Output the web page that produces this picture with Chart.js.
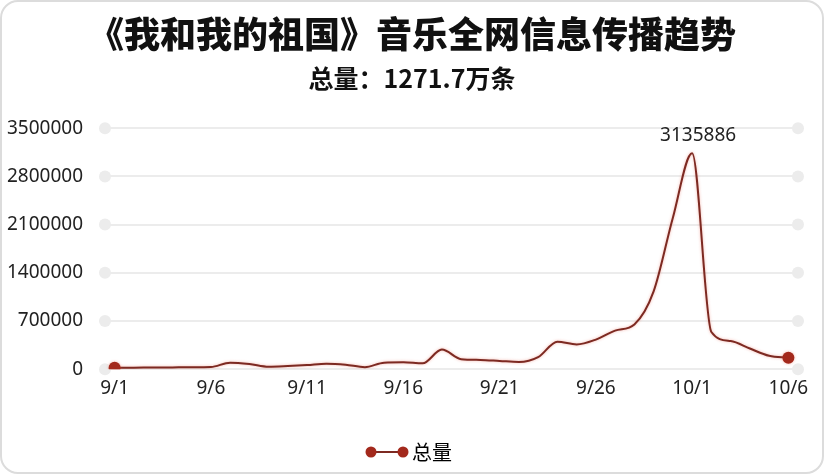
<!DOCTYPE html>
<html>
<head>
<meta charset="utf-8">
<script src="https://cdn.jsdelivr.net/npm/chart.js@4"></script>
<style>
  html, body { margin: 0; padding: 0; background: #fff; }
  #wrap { position: relative; width: 824px; height: 474px; }
  #frame { position: absolute; left: 0; top: 0; width: 824px; height: 474px; box-sizing: border-box;
           border: 2px solid #dcdcdc; border-radius: 18px; pointer-events: none; }
</style>
</head>
<body>
<div id="wrap">
  <canvas id="trendChart" width="824" height="474"></canvas>
  <div id="frame"></div>
</div>
<script>
const days = [
  '9/1','9/2','9/3','9/4','9/5','9/6','9/7','9/8','9/9','9/10',
  '9/11','9/12','9/13','9/14','9/15','9/16','9/17','9/18','9/19','9/20',
  '9/21','9/22','9/23','9/24','9/25','9/26','9/27','9/28','9/29','9/30',
  '10/1','10/2','10/3','10/4','10/5','10/6'
];
const totals = [
  20000, 22000, 24000, 26000, 28000, 32000, 95000, 75000, 35000, 45000,
  60000, 80000, 65000, 30000, 95000, 100000, 85000, 285000, 145000, 135000,
  120000, 105000, 175000, 400000, 360000, 430000, 560000, 650000, 1130000, 2200000,
  3135886, 540000, 410000, 300000, 195000, 165000
];
const yTicks = [0, 700000, 1400000, 2100000, 2800000, 3500000];

const lineColor = '#7d2a22';
const dotColor = '#a3291c';

// legend icon: line with a dot at each end
const legendIcon = document.createElement('canvas');
legendIcon.width = 44;
legendIcon.height = 14;
(function () {
  const c = legendIcon.getContext('2d');
  c.strokeStyle = lineColor;
  c.lineWidth = 2;
  c.beginPath();
  c.moveTo(6, 7);
  c.lineTo(38, 7);
  c.stroke();
  c.fillStyle = dotColor;
  [6, 38].forEach(x => { c.beginPath(); c.arc(x, 7, 5.5, 0, Math.PI * 2); c.fill(); });
})();

// round dots at both ends of every grid line
const gridDots = {
  id: 'gridDots',
  beforeDatasetsDraw(chart) {
    const { ctx, chartArea, scales } = chart;
    ctx.save();
    ctx.fillStyle = '#ececec';
    scales.y.ticks.forEach(t => {
      const y = scales.y.getPixelForValue(t.value);
      [chartArea.left, chartArea.right].forEach(x => {
        ctx.beginPath();
        ctx.arc(x, y, 6, 0, Math.PI * 2);
        ctx.fill();
      });
    });
    ctx.restore();
  }
};

// faint red glow under the line
const lineGlow = {
  id: 'lineGlow',
  beforeDatasetDraw(chart) {
    chart.ctx.save();
    chart.ctx.shadowColor = 'rgba(230, 90, 70, 0.45)';
    chart.ctx.shadowBlur = 3;
  },
  afterDatasetDraw(chart) {
    chart.ctx.restore();
  }
};

// value label over the highest point
const peakLabel = {
  id: 'peakLabel',
  afterDatasetsDraw(chart) {
    const data = chart.data.datasets[0].data;
    const i = data.indexOf(Math.max(...data));
    const pt = chart.getDatasetMeta(0).data[i];
    const ctx = chart.ctx;
    ctx.save();
    ctx.font = '19px "Noto Sans", sans-serif';
    ctx.fillStyle = '#222';
    ctx.textAlign = 'center';
    ctx.textBaseline = 'bottom';
    ctx.fillText(String(data[i]), pt.x + 6, pt.y - 8);
    ctx.restore();
  }
};

// titles and legend are centred on the whole canvas, not on the padded area
const recenter = {
  id: 'recenter',
  afterLayout(chart) {
    const shift = 11;
    [chart.titleBlock, chart.legend].concat(chart.boxes.filter(b => b.options && b.options.text === '总量：1271.7万条'))
      .forEach(b => { if (b) { b.left += shift; b.right += shift; } });
  }
};

const ctx = document.getElementById('trendChart').getContext('2d');
const trendChart = new Chart(ctx, {
  type: 'line',
  data: {
    labels: days,
    datasets: [{
      label: '总量',
      data: totals,
      borderColor: lineColor,
      borderWidth: 2,
      backgroundColor: dotColor,
      cubicInterpolationMode: 'monotone',
      pointRadius: c => (c.dataIndex === 0 || c.dataIndex === totals.length - 1) ? 6 : 0,
      pointBackgroundColor: dotColor,
      pointBorderWidth: 0
    }]
  },
  plugins: [gridDots, lineGlow, peakLabel, recenter],
  options: {
    responsive: false,
    animation: false,
    layout: { padding: { left: 4, right: 26, top: 0, bottom: 2 } },
    plugins: {
      title: {
        display: true,
        text: '《我和我的祖国》音乐全网信息传播趋势',
        color: '#111',
        font: { family: '"Noto Sans CJK SC", sans-serif', size: 36, weight: 900 },
        padding: { top: 13, bottom: 7 }
      },
      subtitle: {
        display: true,
        text: '总量：1271.7万条',
        color: '#111',
        font: { family: '"Noto Sans CJK SC", sans-serif', size: 25, weight: 'bold' },
        padding: { top: 0, bottom: 35 }
      },
      legend: {
        position: 'bottom',
        labels: {
          usePointStyle: true,
          pointStyleWidth: 30,
          color: '#222',
          font: { family: '"Noto Sans CJK SC", sans-serif', size: 20 },
          padding: 14,
          generateLabels: chart => [{
            text: '总量',
            pointStyle: legendIcon,
            fillStyle: dotColor,
            strokeStyle: lineColor,
            lineWidth: 0,
            datasetIndex: 0
          }]
        }
      },
      tooltip: { enabled: false }
    },
    scales: {
      x: {
        offset: true,
        grid: { display: false },
        border: { display: false },
        afterFit: axis => { axis.height += 28; },
        ticks: {
          autoSkip: false,
          maxRotation: 0,
          color: '#222',
          font: { family: '"Noto Sans", sans-serif', size: 19 },
          padding: 0,
          callback: (v, i) => (i % 5 === 0 ? days[i] : '')
        }
      },
      y: {
        min: 0,
        max: 3500000,
        afterBuildTicks: axis => { axis.ticks = yTicks.map(v => ({ value: v })); },
        afterFit: axis => { axis.width = 101; },
        grid: { color: '#ececec', lineWidth: 2, drawTicks: false },
        border: { display: false },
        ticks: {
          color: '#222',
          font: { family: '"Noto Sans", sans-serif', size: 19 },
          padding: 22,
          callback: v => String(v)
        }
      }
    }
  }
});
</script>
</body>
</html>
